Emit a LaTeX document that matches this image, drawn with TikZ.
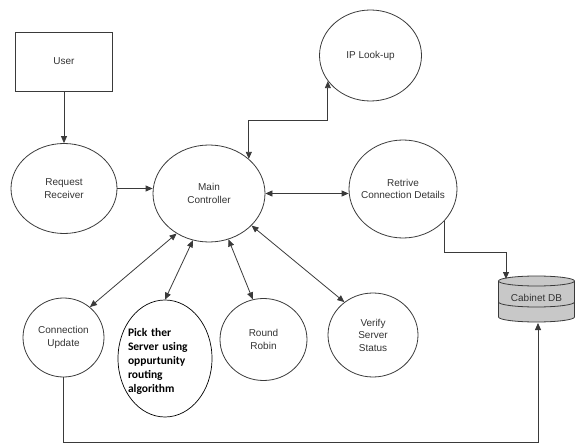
\documentclass[tikz,border=0pt]{standalone}
\usepackage{fontspec}
\setmainfont{Liberation Sans}
\newfontfamily\carlito{Carlito}
\usetikzlibrary{shapes.geometric,arrows.meta}
\definecolor{ln}{HTML}{3A3A3A}
\definecolor{tx}{HTML}{333333}
\definecolor{dbfill}{HTML}{C8C8C8}
\tikzset{
  bub/.style={ellipse, draw=ln, line width=0.8pt, inner sep=0pt},
  lbl/.style={text=tx, align=center, font=\fontsize{10}{12.5}\selectfont, inner sep=0pt},
  conn/.style={draw=ln, line width=0.8pt},
  one/.style={conn, -{Triangle[length=7pt,width=6pt]}},
  both/.style={conn, {Triangle[length=7pt,width=6pt]}-{Triangle[length=7pt,width=6pt]}}
}
\begin{document}
\begin{tikzpicture}[x=1pt,y=-1pt]
\useasboundingbox (0,0) rectangle (575,446);
% nodes
\node[draw=ln, line width=0.8pt, minimum width=97pt, minimum height=59pt, inner sep=0pt] (user) at (64,61.5) {};
\node[lbl] (usert) at (user) {User};
\node[bub, minimum width=106pt, minimum height=90pt] (rr) at (64,188.5) {};
\node[lbl] (rrt) at (rr) {Request\\Receiver};
\node[bub, minimum width=112pt, minimum height=97pt] (mc) at (209,193.5) {};
\node[lbl] (mct) at (mc) {Main\\Controller};
\node[bub, minimum width=102pt, minimum height=91pt] (ip) at (370.5,55.5) {};
\node[lbl] (ipt) at (ip) {IP Look-up};
\node[bub, minimum width=108pt, minimum height=98pt] (rcd) at (403,189) {};
\node[lbl] (rcdt) at (rcd) {Retrive\\Connection Details};
\node[bub, minimum width=81pt, minimum height=79pt] (cu) at (63.5,337.5) {};
\node[lbl] (cut) at (cu) {Connection\\Update};
\node[bub, draw=black, line width=0.7pt, minimum width=94pt, minimum height=117pt] (pick) at (165,358.5) {};
\node[text=black, align=left, text width=70pt, inner sep=0pt, font=\carlito\bfseries\fontsize{11.5}{14}\selectfont] (pickt) at (163,361) {Pick ther\\Server using\\oppurtunity\\routing\\algorithm};
\node[bub, minimum width=87pt, minimum height=82pt] (robin) at (263.5,339.5) {};
\node[lbl] (robint) at (robin) {Round\\Robin};
\node[bub, minimum width=90pt, minimum height=84pt] (vss) at (373,335) {};
\node[lbl] (vsst) at (vss) {Verify\\Server\\Status};
% database cylinder
\fill[dbfill] (498.5,281) -- (498.5,317) arc[start angle=180, end angle=0, x radius=38, y radius=5] -- (574.5,281) arc[start angle=0, end angle=180, x radius=38, y radius=5] -- cycle;
\fill[dbfill] (536.5,281) ellipse [x radius=38, y radius=5];
\draw[ln, line width=0.8pt] (536.5,281) ellipse [x radius=38, y radius=5];
\draw[ln, line width=0.8pt] (498.5,281) -- (498.5,317) arc[start angle=180, end angle=0, x radius=38, y radius=5] -- (574.5,281);
\draw[ln, line width=0.8pt] (498.5,302) arc[start angle=180, end angle=0, x radius=38, y radius=5];
\node[lbl, minimum width=76pt, minimum height=46pt] (db) at (536.5,299) {};
\node[lbl] (dbt) at (536.5,297.5) {Cabinet DB};
\coordinate (dbtop) at (506,279);
\coordinate (dbbot) at (538,323);
% helper coordinates
\coordinate (j1) at (0,120);
\coordinate (j2) at (0,252);
\coordinate (j3) at (0,442);
% connectors
\draw[one] (user.south) -- (user.south |- rr.north);
\draw[one] (rr.east) -- (rr.east -| mc.west);
\draw[both] (mc.41) -- (mc.41 |- j1) -- (ip.211 |- j1) -- (ip.211);
\draw[both] (mc.east) -- (mc.east -| rcd.west);
\draw[one] (rcd.322) -- (rcd.322 |- j2) -| (dbtop);
\draw[one] (cu.south) -- (cu.south |- j3) -| (dbbot);
\draw[both] (mc.231) -- (cu.49);
\draw[both] (mc.251) -- (pick.north);
\draw[both] (mc.293) -- (robin.105);
\draw[both] (mc.323) -- (vss.131);
\end{tikzpicture}
\end{document}
